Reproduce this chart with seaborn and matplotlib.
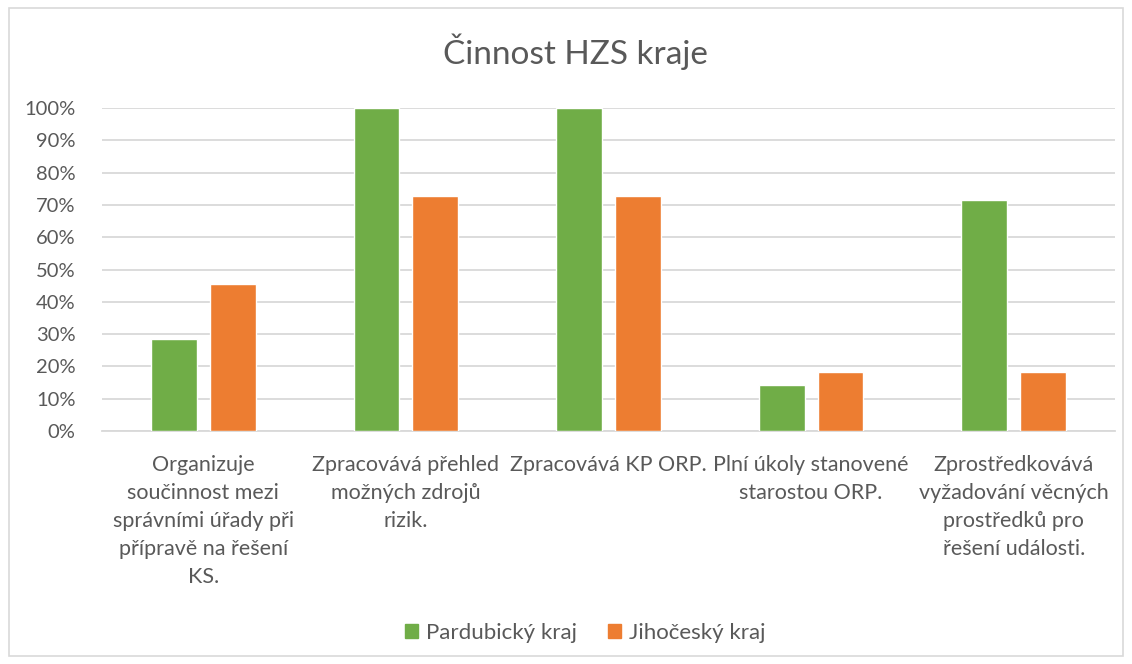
import matplotlib
matplotlib.use("Agg")
import matplotlib.pyplot as plt
import seaborn as sns
import pandas as pd
from matplotlib.patches import Rectangle

categories = [
    "Organizuje\nsoučinnost mezi\nsprávními úřady při\npřípravě na řešení\nKS.",
    "Zpracovává přehled\nmožných zdrojů\nrizik.",
    "Zpracovává KP ORP.",
    "Plní úkoly stanovené\nstarostou ORP.",
    "Zprostředkovává\nvyžadování věcných\nprostředků pro\nřešení události.",
]
series_names = ["Pardubický kraj", "Jihočeský kraj"]
pardubicky = [0.286, 1.0, 1.0, 0.143, 0.714]
jihocesky = [0.455, 0.727, 0.727, 0.182, 0.182]
yticks = [0, 0.1, 0.2, 0.3, 0.4, 0.5, 0.6, 0.7, 0.8, 0.9, 1.0]
ytick_labels = ["0%", "10%", "20%", "30%", "40%", "50%", "60%", "70%", "80%", "90%", "100%"]
colors = ["#70AD47", "#ED7D31"]

df = pd.DataFrame({
    "cat": categories * 2,
    "val": pardubicky + jihocesky,
    "series": [series_names[0]] * 5 + [series_names[1]] * 5,
})

sns.set_theme(style="white")
plt.rcParams["font.family"] = ["Lato", "DejaVu Sans"]

fig = plt.figure(figsize=(11.32, 6.64), dpi=100)
ax = fig.add_axes([0.0901, 0.3509, 0.8949, 0.4864])

sns.barplot(data=df, x="cat", y="val", hue="series", palette=colors,
            width=0.58, gap=0.22, ax=ax, saturation=1, errorbar=None,
            order=categories, hue_order=series_names, zorder=3)

ax.set_ylim(0, 1.0)
ax.set_xlim(-0.5, 4.5)
ax.set_yticks(yticks)
ax.set_yticklabels(ytick_labels)
ax.yaxis.grid(True, color="#D9D9D9", linewidth=1.3, zorder=0)
ax.set_axisbelow(True)
for s in ["top", "right", "left"]:
    ax.spines[s].set_visible(False)
ax.spines["bottom"].set_color("#D9D9D9")
ax.spines["bottom"].set_linewidth(1.3)
ax.tick_params(axis="both", length=0, colors="#595959")
ax.tick_params(axis="y", pad=19, labelsize=14.5)
ax.tick_params(axis="x", pad=17, labelsize=15.5)
for lbl in ax.get_xticklabels():
    lbl.set_linespacing(1.5)
ax.set_xlabel("")
ax.set_ylabel("")

ax.legend_.remove()
handles = [Rectangle((0, 0), 1, 1, color=c) for c in colors]
fig.legend(handles, series_names, loc="center", bbox_to_anchor=(0.517, 0.047),
           ncol=2, frameon=False, fontsize=16, handlelength=0.6, handleheight=0.6,
           columnspacing=1.4, handletextpad=0.35, labelcolor="#595959")

fig.text(0.508, 0.922, "Činnost HZS kraje", ha="center", va="center",
         fontsize=24, color="#595959")

fig.patches.append(Rectangle((0.008, 0.012), 0.984, 0.976, transform=fig.transFigure,
                             fill=False, edgecolor="#D9D9D9", linewidth=1.2))

fig.savefig("out.png", dpi=100)
